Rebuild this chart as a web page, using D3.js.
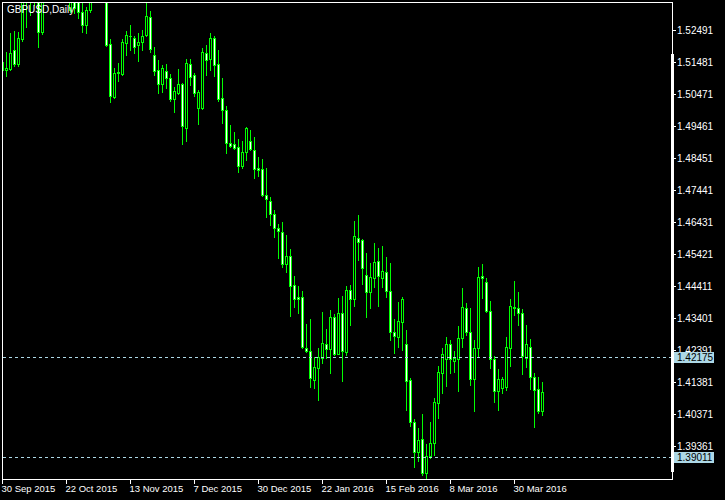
<!DOCTYPE html>
<html><head><meta charset="utf-8">
<script src="https://cdn.jsdelivr.net/npm/d3@7"></script>
<style>body{margin:0;background:#000;} svg{display:block;}</style>
</head><body>
<svg id="c" width="725" height="500"></svg>
<script>
const title = "GBPUSD,Daily";
const opens = [
1.51251,1.51251,1.51282,1.51882,1.51440,1.52229,1.53839,1.54091,1.54249,1.53712,
1.52450,1.5362,1.5398,1.5420,1.5460,1.5445,1.5402,1.53144,1.53555,1.53618,
1.53081,1.52671,1.53144,1.5356,1.5395,1.5385,1.53618,1.52071,1.50398,1.51187,
1.51124,1.52103,1.52308,1.52261,1.52040,1.52134,1.52355,1.52923,1.51724,1.51251,
1.50809,1.51219,1.50998,1.50335,1.50525,1.50809,1.49420,1.51440,1.51093,1.50051,
1.50051,1.51787,1.51598,1.52261,1.51440,1.50367,1.49988,1.48946,1.48915,1.48820,
1.48221,1.48662,1.49010,1.48726,1.48157,1.48126,1.47305,1.47116,1.46706,1.46264,
1.46137,1.45127,1.45380,1.44465,1.44086,1.44086,1.42476,1.42381,1.41466,1.41845,
1.42160,1.42602,1.42445,1.43455,1.42287,1.43581,1.42350,1.44307,1.44023,1.45948,
1.45885,1.44780,1.44244,1.44685,1.45222,1.44685,1.44875,1.44275,1.42981,1.42823,
1.43297,1.42602,1.41466,1.40140,1.39194,1.39604,1.38531,1.39067,1.39478,1.40740,
1.41687,1.42129,1.42602,1.42066,1.42129,1.42792,1.43739,1.42981,1.41498,1.42476,
1.44749,1.44559,1.43644,1.42129,1.41119,1.41214,1.41245,1.42476,1.43739,1.43739,
1.43581,1.42160,1.42508,1.41561,1.41182,1.40488];
const highs = [
1.51566,1.51819,1.52418,1.52482,1.52450,1.53618,1.54091,1.54249,1.54407,1.53933,
1.53776,1.5421,1.5445,1.5480,1.5508,1.5470,1.5425,1.53933,1.53776,1.53776,
1.53523,1.53239,1.53712,1.5412,1.5440,1.5398,1.53776,1.52229,1.51314,1.51472,
1.52229,1.52482,1.52671,1.52324,1.52418,1.52513,1.53365,1.53113,1.51977,1.51566,
1.51408,1.51440,1.51124,1.50714,1.51282,1.50840,1.51598,1.51598,1.51156,1.50619,
1.51945,1.52040,1.52418,1.52324,1.51882,1.50998,1.50114,1.49515,1.49294,1.49073,
1.49010,1.49451,1.49357,1.49136,1.48505,1.48441,1.48157,1.47242,1.46832,1.46390,
1.46453,1.46043,1.45601,1.44749,1.44433,1.44275,1.43234,1.43391,1.42192,1.42476,
1.43612,1.43076,1.43675,1.43549,1.44054,1.44117,1.44433,1.44465,1.46485,1.46674,
1.45916,1.45475,1.45159,1.45790,1.45632,1.45695,1.45348,1.45159,1.43391,1.43928,
1.44086,1.43044,1.41529,1.40235,1.39951,1.40393,1.39446,1.40140,1.40898,1.41908,
1.42476,1.42823,1.42729,1.42381,1.43170,1.44370,1.43896,1.43739,1.42729,1.45033,
1.45127,1.44685,1.43960,1.42224,1.41813,1.41561,1.42823,1.44023,1.44591,1.44244,
1.43707,1.43202,1.42760,1.41687,1.41561,1.41403];
const lows = [
1.51187,1.51061,1.51251,1.51377,1.51377,1.52166,1.52608,1.52987,1.53302,1.51977,
1.52387,1.5355,1.5380,1.5405,1.5430,1.5390,1.5358,1.53081,1.53050,1.52892,
1.52450,1.52418,1.53081,1.5352,1.5375,1.5354,1.52008,1.50241,1.50367,1.50903,
1.51093,1.51724,1.51882,1.51787,1.51535,1.51882,1.52324,1.51819,1.51093,1.50525,
1.50556,1.50682,1.50272,1.49925,1.50493,1.48915,1.49010,1.50777,1.50430,1.49546,
1.50020,1.51093,1.51251,1.51061,1.50272,1.49578,1.48631,1.48820,1.48757,1.48031,
1.48157,1.48410,1.48726,1.47842,1.47905,1.47274,1.46611,1.46358,1.45980,1.45317,
1.45033,1.44875,1.43486,1.43770,1.43581,1.42476,1.42350,1.41245,1.41214,1.40835,
1.42003,1.42160,1.41687,1.42255,1.42287,1.41434,1.42255,1.43202,1.43802,1.45254,
1.44496,1.43455,1.43739,1.44401,1.43802,1.44401,1.44086,1.42729,1.42318,1.42508,
1.42413,1.40519,1.40014,1.38720,1.38909,1.38468,1.38330,1.39004,1.39099,1.40267,
1.41056,1.41277,1.41687,1.41719,1.41119,1.42508,1.42886,1.41308,1.40488,1.42192,
1.44054,1.43612,1.41845,1.40772,1.40519,1.41056,1.41150,1.41908,1.43518,1.43202,
1.41655,1.41876,1.41182,1.39983,1.40424,1.40361];
const closes = [
1.51503,1.51314,1.51787,1.51440,1.52261,1.53555,1.53523,1.53618,1.53776,1.52450,
1.53618,1.5398,1.5420,1.5460,1.5445,1.5402,1.5370,1.53618,1.53208,1.53081,
1.52671,1.53144,1.53555,1.5395,1.5385,1.5362,1.52040,1.50430,1.51156,1.51156,
1.52134,1.52355,1.52324,1.51977,1.52134,1.52324,1.52955,1.51913,1.51219,1.50809,
1.51314,1.50998,1.50335,1.50588,1.50809,1.49483,1.51472,1.51030,1.50525,1.50556,
1.51819,1.51566,1.52261,1.51408,1.50335,1.49988,1.48946,1.48852,1.48789,1.48221,
1.48662,1.49420,1.48757,1.48126,1.48094,1.47305,1.47179,1.46706,1.46264,1.46169,
1.45127,1.45380,1.44433,1.44023,1.44023,1.42508,1.42381,1.41529,1.41876,1.42192,
1.42634,1.42445,1.43455,1.42287,1.43581,1.42381,1.44307,1.44023,1.46011,1.45822,
1.45001,1.44244,1.44717,1.45190,1.44749,1.44906,1.44275,1.42981,1.42855,1.43328,
1.44023,1.41434,1.40140,1.39194,1.39572,1.38531,1.39067,1.39478,1.40772,1.41719,
1.42287,1.42602,1.42129,1.42160,1.42792,1.43770,1.42981,1.41498,1.42476,1.44717,
1.44685,1.43644,1.42129,1.41119,1.41498,1.41498,1.42508,1.43802,1.43770,1.43581,
1.42224,1.42602,1.41561,1.41150,1.40488,1.41087];
const dateTickIdx = [0,16,32,48,64,80,96,112,128];
const dateTickLabels = ["30 Sep 2015","22 Oct 2015","13 Nov 2015","7 Dec 2015","30 Dec 2015","22 Jan 2016","15 Feb 2016","8 Mar 2016","30 Mar 2016"];
const priceTicks = [1.52491,1.51481,1.50471,1.49461,1.48451,1.47441,1.46431,1.45421,1.44411,1.43401,1.42391,1.41381,1.40371,1.39361];
const hLines = [1.42175,1.39011];

const GREEN = "#00ff00", LBLUE = "#add8e6", FONT = "'Liberation Sans', Arial, sans-serif";
const svg = d3.select("#c");
svg.append("rect").attr("width",725).attr("height",500).attr("fill","#000");

const x = d3.scaleLinear().domain([0,135]).range([2,542]);
const y = d3.scaleLinear().domain([1.52491,1.39361]).range([30,446]);
const row = p => Math.round(y(p) + 0.5);

svg.append("clipPath").attr("id","plot").append("rect").attr("x",3).attr("y",3).attr("width",669).attr("height",476);
const g = svg.append("g").attr("clip-path","url(#plot)").attr("shape-rendering","crispEdges");

const data = opens.map((o,i)=>({i,o,h:highs[i],l:lows[i],c:closes[i]}));
const cand = g.selectAll("g.c").data(data).join("g");
cand.append("rect").attr("x",d=>x(d.i)).attr("width",1)
  .attr("y",d=>row(d.h)).attr("height",d=>row(d.l)-row(d.h)+1).attr("fill",GREEN);
cand.append("rect").attr("x",d=>x(d.i)-1).attr("width",3)
  .attr("y",d=>row(Math.max(d.o,d.c))).attr("height",d=>row(Math.min(d.o,d.c))-row(Math.max(d.o,d.c))+1).attr("fill",GREEN);
cand.filter(d=>row(Math.min(d.o,d.c))-row(Math.max(d.o,d.c))>=2)
  .append("rect").attr("x",d=>x(d.i)).attr("width",1)
  .attr("y",d=>row(Math.max(d.o,d.c))+1).attr("height",d=>row(Math.min(d.o,d.c))-row(Math.max(d.o,d.c))-1)
  .attr("fill",d=>d.c>=d.o?"#000":"#fff");

// horizontal dashed lines
g.selectAll("line.h").data(hLines).join("line")
  .attr("x1",3).attr("x2",671).attr("y1",d=>Math.round(y(d))+0.5).attr("y2",d=>Math.round(y(d))+0.5)
  .attr("stroke",LBLUE).attr("stroke-dasharray","3,3");

// frame
svg.append("rect").attr("x",2.5).attr("y",2.5).attr("width",670).attr("height",477)
  .attr("fill","none").attr("stroke","#fff").attr("shape-rendering","crispEdges");
svg.append("rect").attr("x",671).attr("y",54).attr("width",3).attr("height",418).attr("fill","#fff");

// price axis
const ya = svg.append("g").attr("transform","translate(672,0)")
  .call(d3.axisRight(y).tickValues(priceTicks).tickSize(4).tickPadding(2).tickFormat(d3.format(".5f")));
ya.select(".domain").remove();
ya.selectAll("line").attr("stroke","#fff").attr("shape-rendering","crispEdges");
ya.selectAll("text").attr("fill","#fff").attr("font-family",FONT).attr("font-size",10).attr("x",5);

// date axis
const xa = svg.append("g").attr("transform","translate(0,479)")
  .call(d3.axisBottom(x).tickValues(dateTickIdx).tickSize(5).tickFormat((d,k)=>dateTickLabels[k]));
xa.select(".domain").remove();
xa.selectAll("line").attr("stroke","#fff").attr("shape-rendering","crispEdges");
xa.selectAll("text").attr("fill","#fff").attr("font-family",FONT).attr("font-size",9.5)
  .attr("text-anchor","start").attr("x",-1).attr("y",6);

// line labels
const lbl = svg.selectAll("g.lbl").data(hLines).join("g");
lbl.append("rect").attr("x",674).attr("width",40).attr("y",d=>Math.round(y(d))-5).attr("height",11)
  .attr("fill",LBLUE).attr("shape-rendering","crispEdges");
lbl.append("text").attr("x",677).attr("y",d=>Math.round(y(d))+4).attr("fill","#000")
  .attr("font-family",FONT).attr("font-size",10).text(d=>d3.format(".5f")(d));

// title
svg.append("text").attr("x",7).attr("y",12.5).attr("fill","#fff").attr("font-family",FONT).attr("font-size",10).text(title);
</script>
</body></html>
